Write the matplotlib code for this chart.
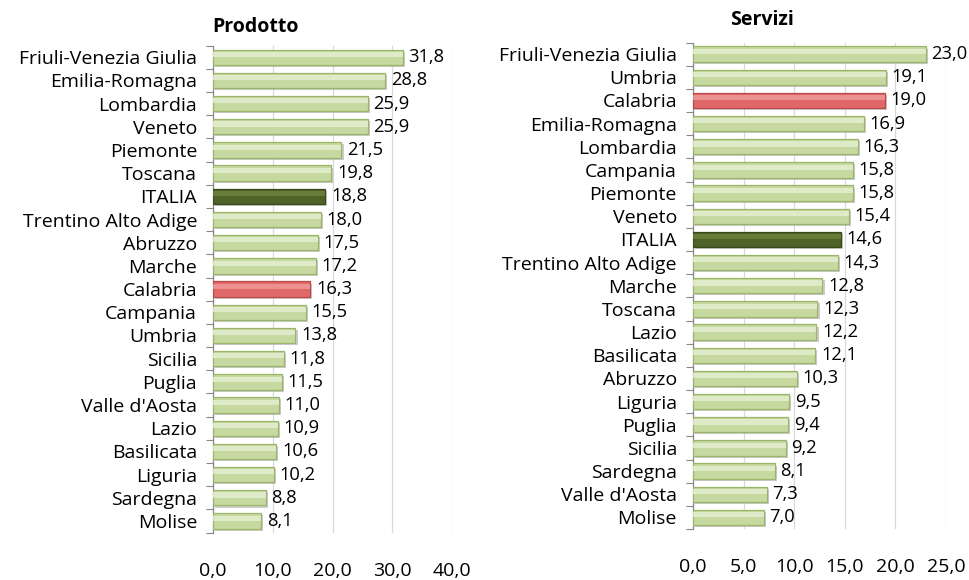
import matplotlib
matplotlib.use("Agg")
import matplotlib.pyplot as plt
import matplotlib.patheffects as pe
from matplotlib.ticker import FuncFormatter, FixedLocator
import numpy as np

plt.rcParams['font.family'] = ['Open Sans', 'DejaVu Sans']

# ---- data ----
prod_regions = ["Friuli-Venezia Giulia", "Emilia-Romagna", "Lombardia", "Veneto", "Piemonte",
                "Toscana", "ITALIA", "Trentino Alto Adige", "Abruzzo", "Marche", "Calabria",
                "Campania", "Umbria", "Sicilia", "Puglia", "Valle d'Aosta", "Lazio",
                "Basilicata", "Liguria", "Sardegna", "Molise"]
prod_values = [31.8, 28.8, 25.9, 25.9, 21.5, 19.8, 18.8, 18.0, 17.5, 17.2, 16.3,
               15.5, 13.8, 11.8, 11.5, 11.0, 10.9, 10.6, 10.2, 8.8, 8.1]

serv_regions = ["Friuli-Venezia Giulia", "Umbria", "Calabria", "Emilia-Romagna", "Lombardia",
                "Campania", "Piemonte", "Veneto", "ITALIA", "Trentino Alto Adige", "Marche",
                "Toscana", "Lazio", "Basilicata", "Abruzzo", "Liguria", "Puglia", "Sicilia",
                "Sardegna", "Valle d'Aosta", "Molise"]
serv_values = [23.0, 19.1, 19.0, 16.9, 16.3, 15.8, 15.8, 15.4, 14.6, 14.3, 12.8,
               12.3, 12.2, 12.1, 10.3, 9.5, 9.4, 9.2, 8.1, 7.3, 7.0]

prod_ticks = [0, 10, 20, 30, 40]
serv_ticks = [0, 5, 10, 15, 20, 25]
titles = ["Prodotto", "Servizi"]

# ---- styles ----
BASE = "#c6d9a0"
BASE_EDGE = "#9bb66a"
BASE_HI = "#e8f0d6"
ITA = "#4f6228"
ITA_EDGE = "#3b4a1d"
ITA_HI = "#6e8540"
CAL = "#e06868"
CAL_EDGE = "#b84a4a"
CAL_HI = "#f0a0a0"
FS = 14
FS_VAL = 13.2

def colors_for(regions):
    fc, ec, hc = [], [], []
    for r in regions:
        if r == "ITALIA":
            fc.append(ITA); ec.append(ITA_EDGE); hc.append(ITA_HI)
        elif r == "Calabria":
            fc.append(CAL); ec.append(CAL_EDGE); hc.append(CAL_HI)
        else:
            fc.append(BASE); ec.append(BASE_EDGE); hc.append(BASE_HI)
    return fc, ec, hc

fmt = FuncFormatter(lambda v, p: f"{v:.1f}".replace(".", ","))

fig = plt.figure(figsize=(9.7, 5.8), dpi=100)
fig.patch.set_facecolor("white")

axes_specs = [
    ([0.2196, 0.0817, 0.2464, 0.8397], prod_regions, prod_values, prod_ticks, 40),
    ([0.7144, 0.0879, 0.2608, 0.8388], serv_regions, serv_values, serv_ticks, 25),
]

for spec, regions, values, ticks, xmax in axes_specs:
    ax = fig.add_axes(spec)
    n = len(regions)
    y = np.arange(n)
    fc, ec, hc = colors_for(regions)
    ax.barh(y, values, height=0.66, color=fc, edgecolor=ec, linewidth=0.9, zorder=3,
            path_effects=[pe.SimplePatchShadow(offset=(1.5, -1.5), shadow_rgbFace="#999999", alpha=0.5),
                          pe.Normal()])
    # highlight strip for a bevelled look
    ax.barh(y - 0.12, values, height=0.22, color=hc, linewidth=0, zorder=4, alpha=0.75)
    for yi, v in zip(y, values):
        ax.annotate(f"{v:.1f}".replace(".", ","), xy=(v, yi), xytext=(4, 0),
                    textcoords="offset points", va="center", ha="left",
                    fontsize=FS_VAL, color="black", zorder=5)
    ax.set_ylim(n - 0.5, -0.5)
    ax.set_xlim(0, xmax)
    ax.set_yticks(y)
    ax.set_yticklabels(regions, fontsize=FS)
    ax.yaxis.set_minor_locator(FixedLocator(np.arange(-0.5, n, 1.0)))
    ax.tick_params(axis="y", which="major", length=0, pad=11.5)
    ax.tick_params(axis="y", which="minor", length=5, width=0.8, color="#888888", direction="out")
    ax.set_xticks(ticks)
    ax.xaxis.set_major_formatter(fmt)
    ax.tick_params(axis="x", length=0, pad=21, labelsize=FS)
    ax.grid(axis="x", color="#d9d9d9", linewidth=0.9, zorder=0)
    for s in ["top", "right", "bottom"]:
        ax.spines[s].set_visible(False)
    ax.spines["left"].set_color("#888888")
    ax.spines["left"].set_linewidth(0.9)
    ax.set_axisbelow(True)

fig.text(0.263, 0.953, titles[0], fontsize=14, fontweight="bold", ha="center", va="center")
fig.text(0.785, 0.966, titles[1], fontsize=14, fontweight="bold", ha="center", va="center")

fig.savefig("out.png", dpi=100)
